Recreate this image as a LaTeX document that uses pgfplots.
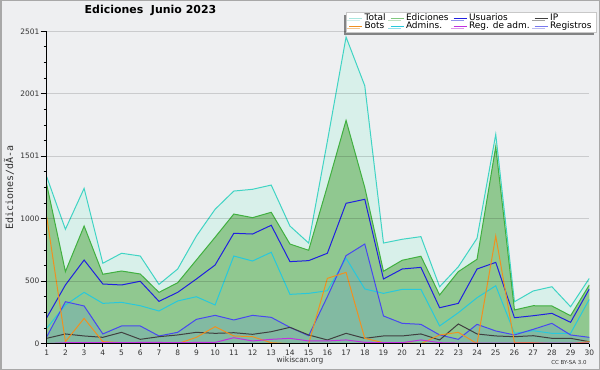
\documentclass[border=0pt]{standalone}
\usepackage{pgfplots}
\pgfplotsset{compat=1.18}
\usepackage{pgfplotstable}
\usepackage{fontspec}
\setmainfont{DejaVu Sans}
\newfontfamily\monofont{DejaVu Sans Mono}
\usetikzlibrary{shadows}

\definecolor{bgc}{HTML}{EEEFF1}
\definecolor{framec}{HTML}{A8A8A8}
\definecolor{tickc}{HTML}{333333}
\definecolor{legc}{HTML}{C8C8C8}
\definecolor{totline}{HTML}{40D4C4}
\definecolor{totfill}{HTML}{D8F0EA}
\definecolor{totleg}{HTML}{A8E6DE}
\definecolor{edline}{HTML}{40B040}
\definecolor{edfill}{HTML}{90C890}
\definecolor{edleg}{HTML}{80C880}
\definecolor{usuc}{HTML}{2020E0}
\definecolor{ipc}{HTML}{404040}
\definecolor{botc}{HTML}{F09020}
\definecolor{admc}{HTML}{28C8DC}
\definecolor{radmc}{HTML}{C030E0}
\definecolor{regline}{HTML}{4848F0}
\definecolor{regfill}{HTML}{82BAA2}
\definecolor{regleg}{HTML}{7878F0}

\pgfplotstableread{
day total edic usu ip bots adm regadm regis
1  1337 1275 208  43 1017 123  0  55
2   916  577 470  78   16 310  8 336
3  1244  942 670  62  203 411  8 302
4   644  556 478  51   16 323  8  78
5   724  582 470  91    8 331  8 142
6   702  558 500  35    8 304 10 142
7   475  411 339  56    8 262 10  62
8   598  488 411  70    0 342  8  91
9   862  670 518  91   51 376 10 195
10 1076  852 630  83  136 310 10 227
11 1222 1038 884  88   62 702 48 190
12 1236 1009 878  75   56 662 22 227
13 1270 1052 948  96    8 732 35 211
14  942  798 657 131    0 395 43 131
15  806  748 665  70    0 403 22  64
16 1620 1260 724  30  523 424 22 376
17 2455 1788 1124 83  571 684 30 705
18 2065 1250 1156 43   43 438 11 798
19  806  580 518  62    8 403  8 222
20  836  668 598  62    8 435  8 163
21  857  700 611  78    0 435 30 155
22  456  390 288  30   70 142  8  70
23  616  577 323 158   91 248  5  35
24  844  676 598  78    0 368  5 155
25 1676 1577 651  62  862 464  5 102
26  336  270 208  56    8  83  5  70
27  422  304 224  64    8 104  5 115
28  456  302 243  43    0  83  5 163
29  296  224 171  43    0  83  5  70
30  523  470 438  16   16 355  5  51
}\datatab

\begin{document}
\begin{tikzpicture}
\useasboundingbox (0,0) rectangle (600bp,370bp);
\fill[bgc] (0,0) rectangle (600bp,370bp);
\draw[framec, line width=1.5bp] (0.75bp,0.75bp) rectangle (599.25bp,369.25bp);
\begin{axis}[
  at={(46.7bp,26.3bp)}, anchor=south west,
  scale only axis, width=542.6bp, height=312.4bp,
  xmin=1, xmax=30, ymin=0, ymax=2501,
  axis x line*=bottom, axis y line*=left,
  axis line style={black, line width=1.2bp},
  xtick={1,...,30},
  ytick={0,500,1000,1501,2001,2501},
  yticklabels={0,500,1000,1501,2001,2501},
  minor ytick={125,250,375,625,750,875,1125,1250,1375,1626,1751,1876,2126,2251,2376},
  tick align=outside,
  major tick length=6bp, minor tick length=3bp,
  xtick style={/pgfplots/major tick length=3bp, black, line width=0.9bp},
  ytick style={black, line width=0.9bp},
  ymajorgrids, grid style={black, opacity=0.15, line width=0.8bp},
  axis on top,
  ticklabel style={font=\fontsize{7.5}{8}\selectfont, text=tickc},
  xticklabel style={inner sep=0.5bp, /pgf/number format/assume math mode=true},
  yticklabel style={inner sep=1bp},
  title={\textbf{Ediciones\ \ Junio 2023}},
  title style={at={(axis description cs:0.1913,1.049)}, anchor=center, font=\fontsize{11}{12}\selectfont},
  ylabel={Ediciones/dÃ-a},
  every axis y label/.style={at={(axis description cs:-0.0695,0.5)}, rotate=90, anchor=center, font=\monofont\fontsize{10}{11}\selectfont, text=tickc},
  legend columns=4, legend cell align=left,
  legend style={at={(axis description cs:0.551,1.0627)}, anchor=north west, draw=legc, line width=0.8bp, fill=white,
    font=\fontsize{9}{10}\selectfont, inner xsep=2.5bp, inner ysep=1.5bp, row sep=-1.5bp,
    nodes={inner xsep=2bp, inner ysep=0.5bp},
    /tikz/every even column/.append style={column sep=2.5bp},
    drop shadow={shadow xshift=-2.5bp, shadow yshift=-2.5bp, fill=black, opacity=0.45}},
  legend image code/.code={\draw[#1, line width=1bp] (0bp,0bp) -- (13bp,0bp);},
]
\addlegendimage{totleg}\addlegendentry{Total}
\addlegendimage{edleg}\addlegendentry{Ediciones}
\addlegendimage{usuc}\addlegendentry{Usuarios}
\addlegendimage{ipc}\addlegendentry{IP}
\addlegendimage{botc}\addlegendentry{Bots}
\addlegendimage{admc}\addlegendentry{Admins.}
\addlegendimage{radmc}\addlegendentry{Reg. de adm.}
\addlegendimage{regleg}\addlegendentry{Registros}

\addplot[draw=none, fill=totfill, forget plot] table[x=day,y=total]{\datatab} \closedcycle;
\addplot[draw=none, fill=edfill, forget plot] table[x=day,y=edic]{\datatab} \closedcycle;
\addplot[draw=none, fill=regfill, forget plot] table[x=day,y=regis]{\datatab} \closedcycle;

\addplot[totline, line width=1bp, forget plot] table[x=day,y=total]{\datatab};
\addplot[edline, line width=1bp, forget plot] table[x=day,y=edic]{\datatab};
\addplot[admc, line width=1bp, forget plot] table[x=day,y=adm]{\datatab};
\addplot[regline, line width=1bp, forget plot] table[x=day,y=regis]{\datatab};
\addplot[ipc, line width=1bp, forget plot] table[x=day,y=ip]{\datatab};
\addplot[usuc, line width=1bp, forget plot] table[x=day,y=usu]{\datatab};
\addplot[botc, line width=1bp, forget plot] table[x=day,y=bots]{\datatab};
\addplot[radmc, line width=1bp, forget plot] table[x=day,y=regadm]{\datatab};
\end{axis}
\node[font=\fontsize{7.5}{8}\selectfont, text=tickc] at (300bp,9.3bp) {wikiscan.org};
\node[font=\fontsize{5.5}{6}\selectfont, text=tickc] at (569bp,7.5bp) {CC BY-SA 3.0};
\end{tikzpicture}
\end{document}
